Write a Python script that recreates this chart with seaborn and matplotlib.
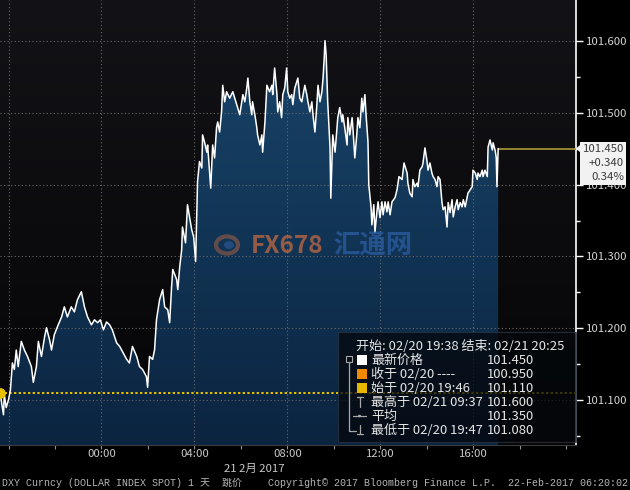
import numpy as np
import pandas as pd
import matplotlib
matplotlib.use("Agg")
import matplotlib.pyplot as plt
import seaborn as sns
from matplotlib.patches import Rectangle, Polygon, Circle
from matplotlib.lines import Line2D
from matplotlib.colors import LinearSegmentedColormap

# ---------------- data (minutes relative to 21 Feb 2017 00:00) ----------------
minutes = [
    -262, -259, -253, -251, -246, -240, -235, -230, -225, -220, -215, -207, -199, -191,
    -181, -176, -168, -163, -155, -147, -142, -134, -129, -122, -114, -103, -96, -88,
    -78, -70, -62, -52, -44, -36, -26, -18, -10, -3, 5, 13, 21, 28, 39, 47, 54, 65,
    72, 80, 91, 98, 106, 116, 119, 124, 132, 137, 142, 150, 158, 163, 171, 176, 181,
    184, 194, 197, 202, 207, 209, 217, 222, 233, 238, 243, 248, 253, 259, 261, 266,
    272, 274, 282, 287, 292, 297, 300, 305, 310, 313, 318, 323, 331, 339, 349, 357,
    362, 365, 370, 375, 378, 383, 388, 390, 396, 401, 403, 409, 414, 416, 422, 427,
    434, 440, 442, 447, 453, 455, 460, 465, 468, 473, 478, 481, 486, 491, 494, 499,
    507, 512, 517, 525, 530, 533, 538, 543, 546, 551, 556, 559, 564, 569, 572, 575,
    577, 580, 584, 590, 592, 595, 597, 603, 608, 610, 615, 621, 623, 628, 634, 636,
    641, 647, 649, 654, 659, 662, 667, 672, 675, 680, 683, 688, 690, 696, 698, 703,
    706, 711, 714, 719, 724, 727, 732, 737, 740, 745, 750, 758, 763, 768, 776, 781,
    789, 791, 796, 802, 804, 809, 815, 817, 822, 828, 830, 835, 840, 843, 848, 853,
    856, 861, 866, 869, 874, 879, 882, 887, 892, 895, 900, 905, 908, 913, 918, 921,
    926, 931, 934, 939, 944, 946, 952, 957, 959, 965, 970, 972, 977, 983, 985, 990,
    996, 998, 1003, 1009, 1011, 1016, 1019, 1021, 1024,
]
prices = [
    101.110, 101.101, 101.080, 101.108, 101.090, 101.101, 101.115, 101.152, 101.143,
    101.170, 101.147, 101.182, 101.170, 101.161, 101.147, 101.125, 101.147, 101.182,
    101.161, 101.188, 101.201, 101.184, 101.170, 101.191, 101.202, 101.216, 101.230,
    101.216, 101.230, 101.223, 101.240, 101.251, 101.230, 101.216, 101.205, 101.212,
    101.208, 101.212, 101.198, 101.209, 101.205, 101.198, 101.180, 101.175, 101.168,
    101.157, 101.152, 101.175, 101.161, 101.147, 101.143, 101.133, 101.118, 101.161,
    101.157, 101.170, 101.212, 101.240, 101.254, 101.230, 101.226, 101.208, 101.258,
    101.282, 101.268, 101.254, 101.286, 101.309, 101.341, 101.319, 101.372, 101.337,
    101.327, 101.293, 101.404, 101.432, 101.423, 101.469, 101.459, 101.445, 101.455,
    101.395, 101.455, 101.437, 101.479, 101.487, 101.473, 101.501, 101.538, 101.515,
    101.529, 101.520, 101.529, 101.511, 101.497, 101.515, 101.525, 101.515, 101.534,
    101.548, 101.515, 101.497, 101.515, 101.497, 101.479, 101.469, 101.455, 101.469,
    101.445, 101.487, 101.538, 101.529, 101.538, 101.525, 101.562, 101.525, 101.501,
    101.515, 101.493, 101.525, 101.534, 101.562, 101.529, 101.520, 101.525, 101.511,
    101.534, 101.548, 101.520, 101.515, 101.538, 101.525, 101.515, 101.501, 101.515,
    101.497, 101.473, 101.511, 101.538, 101.515, 101.529, 101.548, 101.576, 101.600,
    101.580, 101.515, 101.451, 101.381, 101.432, 101.469, 101.445, 101.479, 101.493,
    101.507, 101.487, 101.497, 101.479, 101.455, 101.493, 101.469, 101.493, 101.479,
    101.437, 101.469, 101.493, 101.479, 101.520, 101.501, 101.525, 101.497, 101.459,
    101.400, 101.368, 101.344, 101.372, 101.334, 101.362, 101.376, 101.354, 101.376,
    101.358, 101.376, 101.362, 101.376, 101.358, 101.376, 101.382, 101.393, 101.411,
    101.407, 101.430, 101.416, 101.402, 101.388, 101.383, 101.407, 101.397, 101.402,
    101.397, 101.420, 101.425, 101.430, 101.451, 101.434, 101.420, 101.430, 101.416,
    101.411, 101.407, 101.397, 101.411, 101.407, 101.375, 101.365, 101.369, 101.341,
    101.375, 101.361, 101.379, 101.355, 101.369, 101.379, 101.365, 101.375, 101.369,
    101.379, 101.369, 101.383, 101.388, 101.393, 101.397, 101.420, 101.416, 101.407,
    101.416, 101.411, 101.420, 101.411, 101.420, 101.411, 101.452, 101.462, 101.448,
    101.458, 101.448, 101.438, 101.397, 101.450,
]

axis_start_min = -262      # 02/20 19:38
axis_end_min = 1225        # 02/21 20:25
y_ticks = [101.100, 101.200, 101.300, 101.400, 101.500, 101.600]
y_minor = [101.050, 101.150, 101.250, 101.350, 101.450, 101.550]
x_tick_hours = [-4, -2, 0, 2, 4, 6, 8, 10, 12, 14, 16, 18, 20]
x_label_hours = [0, 4, 8, 12, 16]
x_labels = ["00:00", "04:00", "08:00", "12:00", "16:00"]
grid_hours = [-4, 0, 4, 8, 12, 16]

open_price = 101.110
last_price = 101.450
change_txt = "+0.340"
change_pct_txt = "0.34%"

legend_title = "开始: 02/20 19:38 结束: 02/21 20:25"
legend_labels = ["最新价格", "收于 02/20 ----", "始于 02/20 19:46",
                 "最高于 02/21 09:37", "平均", "最低于 02/20 19:47"]
legend_values = ["101.450", "100.950", "101.110", "101.600", "101.350", "101.080"]
legend_swatches = ["#ffffff", "#f08a00", "#e6b800", None, None, None]

date_label = "21 2月 2017"
footer_left = "DXY Curncy (DOLLAR INDEX SPOT) 1 天  跳价"
footer_mid = "Copyright\u00a9 2017 Bloomberg Finance L.P."
footer_right = "22-Feb-2017 06:20:02"

# ---------------- style ----------------
sns.set_theme(style="dark")
plt.rcParams["font.family"] = ["Noto Sans CJK SC", "DejaVu Sans"]
plt.rcParams["axes.unicode_minus"] = False

df = pd.DataFrame({"hours": np.array(minutes) / 60.0, "price": prices})

W, H = 630, 490
fig = plt.figure(figsize=(W / 100, H / 100), dpi=100, facecolor="#000000")
ax = fig.add_axes([0, 1 - 445 / H, 576 / W, 445 / H])

xmin, xmax = axis_start_min / 60.0, axis_end_min / 60.0
ymin, ymax = 101.038, 101.6565
ax.set_xlim(xmin, xmax)
ax.set_ylim(ymin, ymax)

# background gradient
bg = LinearSegmentedColormap.from_list("bg", ["#050507", "#131317"])
ax.imshow(np.linspace(0, 1, 256).reshape(-1, 1), extent=[xmin, xmax, ymin, ymax],
          origin="lower", aspect="auto", cmap=bg, zorder=0)

# area fill with gradient clipped to the data polygon
verts = list(zip(df["hours"], df["price"])) + [(df["hours"].iloc[-1], ymin), (df["hours"].iloc[0], ymin)]
poly = Polygon(verts, closed=True, fc="none", ec="none", transform=ax.transData)
ax.add_patch(poly)
navy = LinearSegmentedColormap.from_list("navy", ["#0b2440", "#184469"])
im = ax.imshow(np.linspace(0, 1, 256).reshape(-1, 1), extent=[xmin, xmax, ymin, 101.6],
               origin="lower", aspect="auto", cmap=navy, zorder=1)
im.set_clip_path(poly)

# grid
for yv in y_ticks:
    ax.axhline(yv, color="#686868", lw=0.8, ls=(0, (1, 2.2)), zorder=2)
for hv in grid_hours:
    ax.axvline(hv, color="#686868", lw=0.8, ls=(0, (1, 2.2)), zorder=2)

# price line
sns.lineplot(data=df, x="hours", y="price", color="white", linewidth=1.1,
             ax=ax, zorder=4, sort=False, estimator=None)

# open level (dotted yellow) + start marker
ax.axhline(open_price, color="#e8c400", lw=1.4, ls=(0, (1.2, 1.2)), zorder=3)
ax.scatter([df["hours"].iloc[0]], [open_price], s=45, color="#e8c000", zorder=5, clip_on=True)

# last price level
ax.hlines(last_price, df["hours"].iloc[-1], xmax, color="#a89a3a", lw=1.2, zorder=3)

# axes styling
ax.set_xlabel("")
ax.set_ylabel("")
ax.yaxis.tick_right()
ax.set_yticks(y_ticks)
ax.set_yticklabels([f"{v:.3f}" for v in y_ticks])
ax.set_yticks(y_minor, minor=True)
ax.set_xticks(x_tick_hours)
ax.set_xticklabels([x_labels[x_label_hours.index(h)] if h in x_label_hours else "" for h in x_tick_hours])
ax.tick_params(axis="y", which="major", colors="white", labelcolor="#d4d4d4",
               length=5, width=1, pad=2, labelsize=8.2, right=True, left=False, direction="out")
ax.tick_params(axis="y", which="minor", colors="white", length=3, width=1, right=True, left=False)
ax.tick_params(axis="x", colors="#909090", labelcolor="#c8c8c8", length=3, width=0.8,
               pad=0, labelsize=8.2, bottom=True, direction="out")
for s in ["left", "top"]:
    ax.spines[s].set_visible(False)
ax.spines["right"].set_color("white")
ax.spines["right"].set_linewidth(1.2)
ax.spines["bottom"].set_color("#3a3a3a")
ax.spines["bottom"].set_linewidth(0.8)
ax.grid(False)


def F(x, y):
    return (x / W, 1 - y / H)


# watermark
fig.patches.append(Circle(F(227, 245), 11 / W, transform=fig.transFigure, fc="none",
                          ec="#c86a40", lw=3, alpha=0.45, zorder=3))
fig.patches.append(Circle(F(229, 245), 5 / W, transform=fig.transFigure, fc="#3a6ab0",
                          ec="none", alpha=0.45, zorder=3))
fig.text(*F(251, 246), "FX678", color="#cf6d40", alpha=0.7, fontsize=17.5,
         fontweight="bold", ha="left", va="center", zorder=3)
fig.text(*F(333, 246), "汇通网", color="#2f64b0", alpha=0.65, fontsize=19,
         fontweight="bold", ha="left", va="center", zorder=3)

# info box
fig.patches.append(Rectangle(F(338, 442), (576 - 338) / W, 110 / H, transform=fig.transFigure,
                             fc="#04070b", ec="#2c3642", lw=0.8, alpha=0.75, zorder=6))
txt_kw = dict(color="#e6e6e6", fontsize=9.4, va="center", zorder=7)
fig.text(*F(356, 346), legend_title, ha="left", **txt_kw)
for i, (lab, val, sw) in enumerate(zip(legend_labels, legend_values, legend_swatches)):
    yy = 360 + 14 * i
    fig.text(*F(371, yy), lab, ha="left", **txt_kw)
    fig.text(*F(487, yy), val, ha="left", **txt_kw)
    if sw is not None:
        fig.patches.append(Rectangle(F(357, yy + 5), 10 / W, 10 / H, transform=fig.transFigure,
                                     fc=sw, ec="none", zorder=7))
tree_c = "#a8a8a8"
tree_lines = [
    ([349, 349], [362, 431]), ([349, 356], [431, 431]),
    ([360, 360], [397, 407]), ([357, 363], [397, 397]),
    ([353, 366], [416, 416]),
    ([360, 360], [425, 434]), ([357, 363], [434, 434]),
]
for xs, ys in tree_lines:
    fig.lines.append(Line2D([x / W for x in xs], [1 - y / H for y in ys], transform=fig.transFigure,
                            color=tree_c, lw=0.9, zorder=7))
fig.patches.append(Rectangle(F(346, 362), 6 / W, 6 / H, transform=fig.transFigure,
                             fc="none", ec=tree_c, lw=0.8, zorder=7))
fig.patches.append(Circle(F(359.5, 416), 1.6 / W, transform=fig.transFigure, fc=tree_c, ec="none", zorder=7))

# last price tag on the right axis
fig.canvas.draw()
y_last_px = H - ax.transData.transform((0, last_price))[1]
tag_top = y_last_px - 7
fig.patches.append(Rectangle(F(580, tag_top + 43), 46 / W, 43 / H, transform=fig.transFigure,
                             fc="#f2f2f2", ec="none", zorder=8))
fig.patches.append(Polygon([F(576, y_last_px), F(580.5, y_last_px - 4), F(580.5, y_last_px + 4)],
                           closed=True, transform=fig.transFigure, fc="#f2f2f2", ec="none", zorder=8))
tag_kw = dict(color="#3a3a3a", fontsize=8.2, va="center", ha="right", zorder=9)
fig.text(*F(624, tag_top + 7), f"{last_price:.3f}", **tag_kw)
fig.text(*F(624, tag_top + 21), change_txt, **tag_kw)
fig.text(*F(624, tag_top + 35), change_pct_txt, **tag_kw)

# bottom texts
fig.text(*F(254, 469), date_label, color="#c8c8c8", fontsize=8.2, ha="center", va="center")
foot_kw = dict(color="#b4b4b4", fontsize=7.2, va="center",
               family=["Liberation Mono", "Noto Sans CJK SC", "DejaVu Sans"])
fig.text(*F(2, 483), footer_left, ha="left", **foot_kw)
fig.text(*F(268, 483), footer_mid, ha="left", **foot_kw)
fig.text(*F(628, 483), footer_right, ha="right", **foot_kw)

fig.savefig("out.png", dpi=100, facecolor=fig.get_facecolor())
